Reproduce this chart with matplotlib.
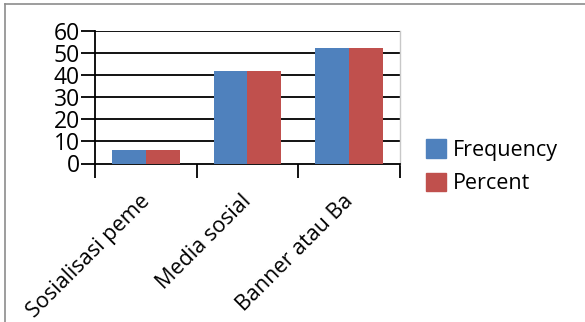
import matplotlib
matplotlib.use("Agg")
import matplotlib.pyplot as plt
from matplotlib.lines import Line2D
from matplotlib.patches import Patch
import numpy as np

categories = ["Sosialisasi peme", "Media sosial", "Banner atau Ba"]
frequency = [6, 42, 52]
percent = [6, 42, 52]
yticks = [0, 10, 20, 30, 40, 50, 60]
series_names = ["Frequency", "Percent"]

plt.rcParams['font.family'] = ['Open Sans', 'DejaVu Sans']

W, H = 585, 322
fig = plt.figure(figsize=(W / 100, H / 100), dpi=100)

# outer frame (top and left)
fig.add_artist(Line2D([5 / W, 5 / W], [0, 1 - 4 / H], color='#8c8c8c', lw=1.2))
fig.add_artist(Line2D([5 / W, 1], [1 - 4 / H, 1 - 4 / H], color='#8c8c8c', lw=1.2))

left, right, top, bottom = 95, 400, 30.7, 163.5
ax = fig.add_axes([left / W, 1 - bottom / H, (right - left) / W, (bottom - top) / H])

x = np.arange(len(categories))
bw = 1 / 3
blue, red = '#4F81BD', '#C0504D'
ax.bar(x - bw / 2, frequency, bw, color=blue, zorder=3, label=series_names[0])
ax.bar(x + bw / 2, percent, bw, color=red, zorder=3, label=series_names[1])

ax.set_xlim(-0.5, len(categories) - 0.5)
ax.set_ylim(0, 60)
ax.set_yticks(yticks)
ax.set_yticklabels([str(v) for v in yticks])
for v in yticks[1:]:
    ax.axhline(v, color='black', lw=1.3, zorder=1)

ax.spines['top'].set_visible(False)
ax.spines['right'].set_color('#c8c8c8')
ax.spines['right'].set_linewidth(1.0)
ax.spines['left'].set_linewidth(1.3)
ax.spines['bottom'].set_linewidth(1.3)

ax.tick_params(axis='y', length=10, width=1.3, pad=1, labelsize=16.5)
ax.set_xticks(np.arange(len(categories) + 1) - 0.5)
ax.set_xticklabels([])
ax.tick_params(axis='x', length=10, width=1.3)

# category labels rotated
for i, lab in enumerate(categories):
    ax.annotate(lab, xy=(i, 0), xycoords='data', xytext=(8, -27), textcoords='offset pixels',
                rotation=45, ha='right', va='top', fontsize=15.5, annotation_clip=False)

handles = [Patch(color=blue), Patch(color=red)]
fig.legend(handles, series_names, loc='upper left', bbox_to_anchor=(426 / W, 1 - 139 / H),
           frameon=False, fontsize=15.5, handlelength=0.95, handleheight=0.95,
           handletextpad=0.3, labelspacing=0.55, borderpad=0, borderaxespad=0)

fig.savefig('out.png', dpi=100)
